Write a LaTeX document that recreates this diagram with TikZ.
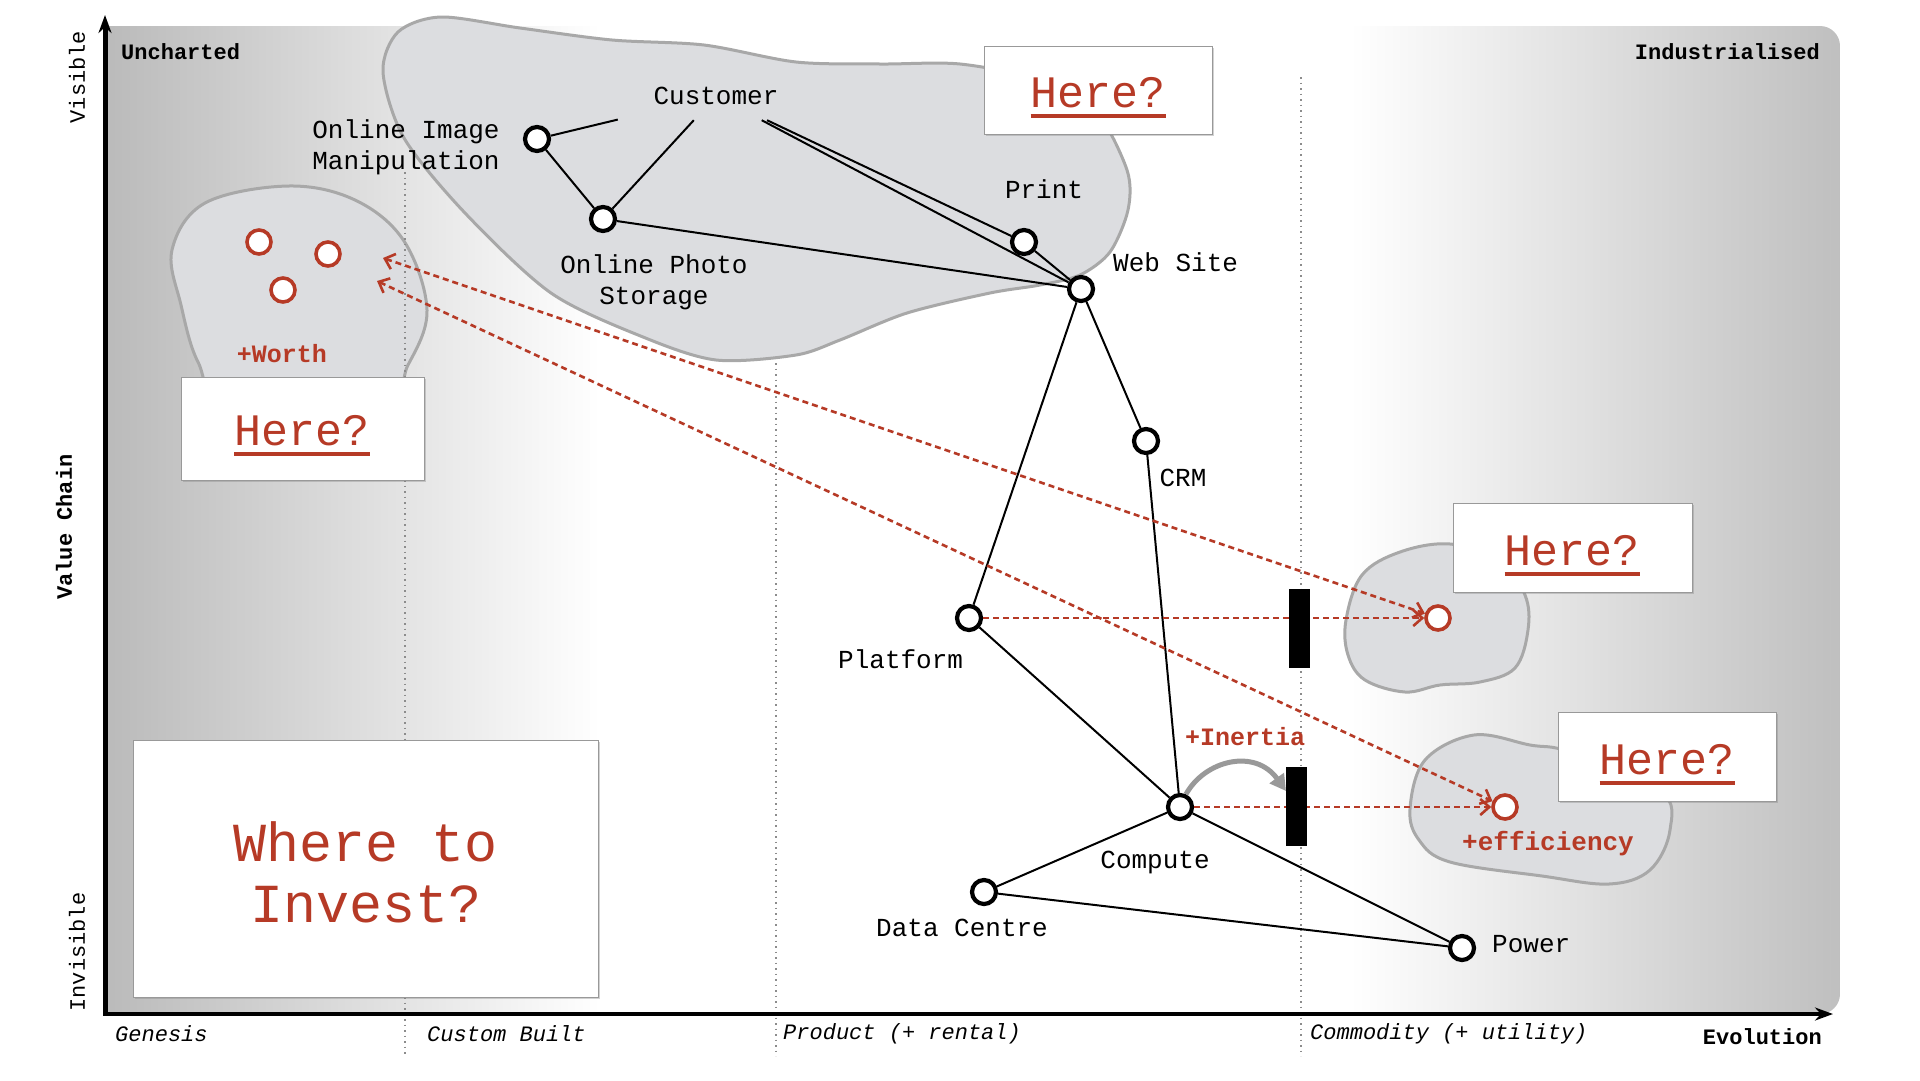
\documentclass[tikz,border=0pt]{standalone}
\usepackage{fontspec}
\setmainfont{Liberation Mono}
\usetikzlibrary{arrows.meta,shadows,calc}
\definecolor{rd}{RGB}{182,58,38}
\definecolor{blobfill}{RGB}{220,221,224}
\definecolor{blobline}{RGB}{168,168,168}
\newsavebox\ulbox
\newcommand\hereul[1]{\sbox\ulbox{#1}\rlap{\usebox\ulbox}\rule[-11pt]{\wd\ulbox}{4pt}}
\begin{document}
\begin{tikzpicture}[x=1pt,y=-1pt,
  comp/.style={circle, draw=black, line width=4.2pt, fill=white, minimum size=24pt, inner sep=0pt},
  redc/.style={circle, draw=rd, line width=3.6pt, fill=white, minimum size=24pt, inner sep=0pt},
  lbl/.style={inner sep=0pt, font=\fontsize{26}{31}\selectfont},
  axl/.style={inner sep=0pt, font=\fontsize{22}{26}\selectfont},
  redl/.style={inner sep=0pt, text=rd, font=\bfseries\fontsize{25}{30}\selectfont},
  blob/.style={fill=blobfill, draw=blobline, line width=3pt},
  link/.style={line width=2pt},
  reddash/.style={draw=rd, line width=2.6pt, dash pattern=on 6pt off 4pt},
  herebox/.style={draw=black!40, fill=white, line width=1pt, inner sep=0pt, drop shadow={shadow xshift=1.5pt, shadow yshift=-2pt, opacity=0.35}},
  heretxt/.style={inner sep=0pt, anchor=base, text=rd, font=\fontsize{45}{54}\selectfont},
  guide/.style={draw=black!45, line width=1.2pt, dash pattern=on 1.5pt off 4pt},
  bar/.style={fill=black, inner sep=0pt, minimum width=21pt, minimum height=79pt}
]
\useasboundingbox (0,0) rectangle (1920,1080);
\fill[white] (0,0) rectangle (1920,1080);

% background
\begin{scope}
\clip (105,1014) -- (105,26) [rounded corners=20pt]-- (1840,26) -- (1840,1014) [sharp corners]-- cycle;
\shade[left color=black!27, right color=white] (105,26) rectangle (600,1014);
\shade[left color=white, right color=black!25] (1350,26) rectangle (1840,1014);
\end{scope}

% worth blob
\path[blob] plot[smooth cycle, tension=0.6] coordinates {(288,186) (355,200) (404,241) (427,310) (408,365) (380,400) (230,400) (198,362) (181,305) (172,250) (205,203)};

% guides
\draw[guide] (405,172) -- (405,1056);
\draw[guide] (776,77) -- (776,1056);
\draw[guide] (1301,77) -- (1301,1056);

% big blob
\path[blob] plot[smooth cycle, tension=0.5] coordinates {(441,17) (520,28) (612,40) (704,45) (796,62) (880,64) (960,64) (1040,80) (1095,110) (1127,170) (1128,210) (1110,252) (1080,275) (1040,285) (990,293) (907,313) (840,340) (796,355) (716,360) (643,337) (551,293) (465,213) (404,138) (383,72) (398,32)};

% right blobs
\path[blob] plot[smooth cycle, tension=0.6] coordinates {(1346,620) (1362,575) (1400,552) (1450,544) (1500,560) (1525,595) (1528,630) (1515,668) (1480,682) (1440,685) (1405,692) (1365,680) (1348,655)};
\path[blob] plot[smooth cycle, tension=0.6] coordinates {(1410,809) (1425,760) (1474,735) (1530,745) (1570,752) (1660,790) (1670,830) (1650,870) (1609,884) (1542,876) (1450,862) (1419,840)};

% axes
\draw[line width=5pt, -{Stealth[length=18pt,width=13pt]}] (105,1014) -- (105,15);
\draw[line width=4.5pt, -{Stealth[length=18pt,width=13pt]}] (103,1014) -- (1833,1014);

% components
\node[lbl, minimum width=196pt, minimum height=48pt] (customer) at (716,96) {Customer};
\node[comp] (oim) at (537,139) {};
\node[comp] (ops) at (603,219) {};
\node[comp] (print) at (1024,242) {};
\node[comp] (web) at (1081,289) {};
\node[comp] (crm) at (1146,441) {};
\node[comp] (plat) at (969,618) {};
\node[comp] (compute) at (1180,807) {};
\node[comp] (dc) at (984,892) {};
\node[comp] (power) at (1462,948) {};

\draw[link] (customer) -- (oim);
\draw[link] (customer) -- (ops);
\draw[link] (customer) -- (print);
\draw[link] (customer) -- (web);
\draw[link] (oim) -- (ops);
\draw[link] (ops) -- (web);
\draw[link] (print) -- (web);
\draw[link] (web) -- (crm);
\draw[link] (web) -- (plat);
\draw[link] (crm) -- (compute);
\draw[link] (plat) -- (compute);
\draw[link] (compute) -- (dc);
\draw[link] (compute) -- (power);
\draw[link] (dc) -- (power);

% red targets
\node[redc] (t1) at (1438,618) {};
\node[redc] (t2) at (1505,807) {};
\node[redc] (w1) at (259,242) {};
\node[redc] (w2) at (328,254) {};
\node[redc] (w3) at (283,290) {};
\coordinate (wa) at (383,258);
\coordinate (wb) at (377,281);

\draw[reddash, -{Straight Barb[length=9pt,width=16pt]}] (plat) -- (t1);
\draw[reddash, -{Straight Barb[length=9pt,width=16pt]}] (compute) -- (t2);
\draw[reddash, {Straight Barb[length=9pt,width=16pt]}-{Straight Barb[length=9pt,width=16pt]}] (wa) -- (t1);
\draw[reddash, {Straight Barb[length=9pt,width=16pt]}-{Straight Barb[length=9pt,width=16pt]}] (wb) -- (t2);

% inertia bars
\node[bar] (bar1) at (1299.5,628.5) {};
\node[bar] (bar2) at (1296.5,806.5) {};
\coordinate (inarr) at (1286,791);
\draw[black!40, line width=5pt, -{Triangle[length=16pt,width=17pt]}] (compute.65) .. controls (1205,760) and (1255,748) .. (inarr);

% labels
\node[lbl, align=left] (oimL) at (406,147) {Online Image\\Manipulation};
\node[lbl, align=center] (opsL) at (654,282) {Online Photo\\Storage};
\node[lbl] (printL) at (1044,189) {Print};
\node[lbl, anchor=west] (webL) at (1113,262) {Web Site};
\node[lbl] (crmL) at (1183,478) {CRM};
\node[lbl, anchor=west] (platL) at (838,659) {Platform};
\node[lbl] (computeL) at (1155,862) {Compute};
\node[lbl, anchor=west] (dcL) at (876,928) {Data Centre};
\node[lbl, anchor=west] (powerL) at (1492,944) {Power};

\node[redl] (worthL) at (282,354) {+Worth};
\node[redl] (inertiaL) at (1245,737) {+Inertia};
\node[redl, font=\bfseries\fontsize{26}{30}\selectfont] (effL) at (1548,844) {+efficiency};

% axis labels
\node[axl, font=\bfseries\fontsize{22}{26}\selectfont, anchor=west] (unch) at (121,52) {Uncharted};
\node[axl, font=\bfseries\fontsize{22}{26}\selectfont, anchor=east] (indus) at (1820,52) {Industrialised};
\node[axl, font=\itshape\fontsize{22}{26}\selectfont, anchor=west] (gen) at (115,1034) {Genesis};
\node[axl, font=\itshape\fontsize{22}{26}\selectfont, anchor=west] (cust) at (427,1034) {Custom Built};
\node[axl, font=\itshape\fontsize{22}{26}\selectfont, anchor=west] (prod) at (783,1034) {Product (+ rental)};
\node[axl, font=\itshape\fontsize{22}{26}\selectfont, anchor=west] (comm) at (1310,1034) {Commodity (+ utility)};
\node[axl, font=\bfseries\fontsize{22}{26}\selectfont, anchor=east] (evo) at (1822,1037) {Evolution};
\node[axl, rotate=90] (vis) at (77,77) {Visible};
\node[axl, font=\bfseries\fontsize{22}{26}\selectfont, rotate=90] (vc) at (64,527) {Value Chain};
\node[axl, rotate=90] (invis) at (77,952) {Invisible};

% Here boxes
\node[herebox, minimum width=243pt, minimum height=103pt] (hA) at (302.5,428.5) {};
\node[heretxt] (hAt) at (302,445) {\hereul{Here?}};
\node[herebox, minimum width=228pt, minimum height=88pt] (hB) at (1098,90) {};
\node[heretxt] (hBt) at (1098,107) {\hereul{Here?}};
\node[herebox, minimum width=239pt, minimum height=89pt] (hC) at (1572.5,547.5) {};
\node[heretxt] (hCt) at (1572,565) {\hereul{Here?}};
\node[herebox, minimum width=218pt, minimum height=89pt] (hD) at (1667,756.5) {};
\node[heretxt] (hDt) at (1667,774) {\hereul{Here?}};

% Where to invest
\node[herebox, minimum width=465pt, minimum height=257pt] (wti) at (365.5,868.5) {};
\node[inner sep=0pt, align=center, text=rd, font=\fontsize{55}{61}\selectfont] (wtiT) at (366,872) {Where to\\Invest?};
\end{tikzpicture}
\end{document}
